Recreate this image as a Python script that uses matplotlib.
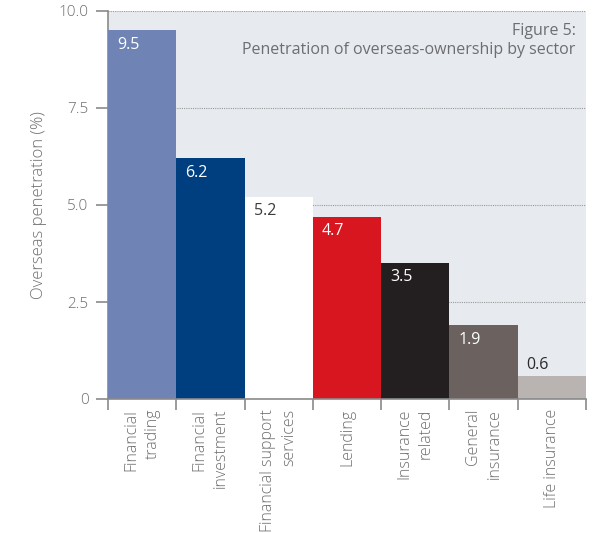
import matplotlib
matplotlib.use("Agg")
import matplotlib.pyplot as plt
import numpy as np

sectors = ["Financial\ntrading", "Financial\ninvestment", "Financial support\nservices",
           "Lending", "Insurance\nrelated", "General\ninsurance", "Life insurance"]
penetration = [9.5, 6.2, 5.2, 4.7, 3.5, 1.9, 0.6]
bar_colors = ["#6f83b4", "#003f7f", "#ffffff", "#d7161f", "#231f20", "#6b625f", "#b9b3b2"]
label_colors = ["white", "white", "#3c3c3c", "white", "white", "white", "#2a2a2a"]
yticks = [0, 2.5, 5.0, 7.5, 10.0]
ytick_labels = ["0", "2.5", "5.0", "7.5", "10.0"]

plt.rcParams['font.family'] = ['Open Sans', 'DejaVu Sans']
grey = "#6d6e71"

fig = plt.figure(figsize=(5.95, 5.33), dpi=100)
ax = fig.add_axes([108/595, 1-399/533, (586-108)/595, (399-11)/533])
ax.set_facecolor("#e7eaee")

x = np.arange(len(sectors))
ax.bar(x, penetration, width=1.0, color=bar_colors, align="edge", zorder=3)

# Value labels: inside the top of each bar, above the bar when it is too short
for xi, v, c in zip(x, penetration, label_colors):
    if v < 1:
        ax.annotate(f"{v:.1f}", (xi, v), xytext=(6.5, 5), textcoords="offset points",
                    ha="left", va="baseline", color=c, fontsize=11.5, zorder=4)
    else:
        ax.annotate(f"{v:.1f}", (xi, v), xytext=(6.5, -4.5), textcoords="offset points",
                    ha="left", va="top", color=c, fontsize=11.5, zorder=4)

ax.set_xlim(0, len(sectors))
ax.set_ylim(0, 10)
ax.set_yticks(yticks)
ax.set_yticklabels(ytick_labels, color=grey, fontsize=11, fontweight="light")
ax.set_xticks(np.arange(len(sectors) + 1))
ax.set_xticklabels([])
ax.set_xticks(x + 0.5, minor=True)
ax.set_xticklabels(sectors, minor=True, rotation=90, ha="center", va="top",
                   multialignment="right", color=grey, fontsize=11.5, fontweight="light",
                   linespacing=1.45)
ax.tick_params(axis="x", which="minor", length=0, pad=7)
ax.tick_params(axis="x", which="major", length=8, width=1.2, color="#8a8a8a", direction="out")
ax.tick_params(axis="y", length=9, width=1.2, color="#8a8a8a", direction="out", pad=5)

ax.yaxis.grid(True, linestyle=(0, (1, 1)), color="#9a9a9a", linewidth=0.8, zorder=1)
ax.set_axisbelow(True)

for side in ["right", "top"]:
    ax.spines[side].set_visible(False)
ax.spines["left"].set_color("#8a8a8a")
ax.spines["left"].set_linewidth(1.2)
ax.spines["bottom"].set_color("#8a8a8a")
ax.spines["bottom"].set_linewidth(1.2)
ax.spines["bottom"].set_zorder(5)

ax.set_ylabel("Overseas penetration (%)", color=grey, fontsize=12, fontweight="light", labelpad=8)

ax.text(0.978, 0.968, "Figure 5:\nPenetration of overseas-ownership by sector",
        transform=ax.transAxes, ha="right", va="top", multialignment="right",
        color=grey, fontsize=11.5, linespacing=1.2, zorder=4)

fig.savefig("out.png", dpi=100)
